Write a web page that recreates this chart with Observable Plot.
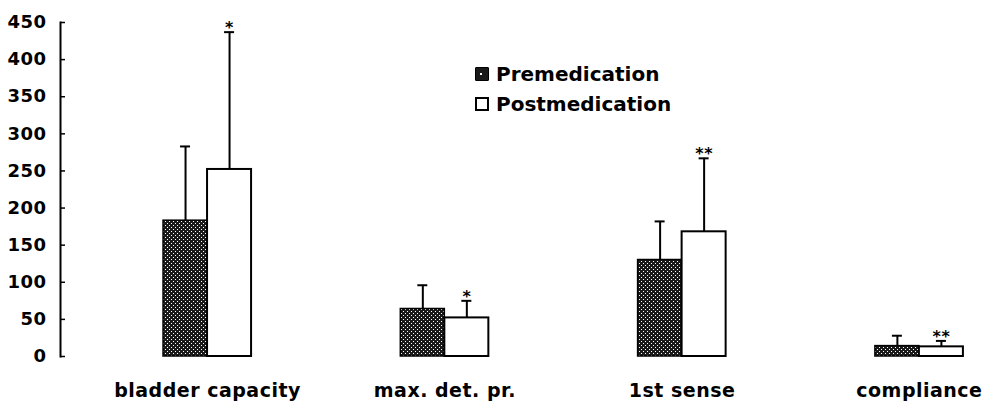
<!DOCTYPE html>
<html>
<head>
<meta charset="utf-8">
<script src="https://cdn.jsdelivr.net/npm/d3@7"></script>
<script src="https://cdn.jsdelivr.net/npm/@observablehq/plot@0.6"></script>
<style>
  body { margin: 0; background: #fff; font-family: "DejaVu Sans", sans-serif; }
  #wrap { position: relative; width: 993px; height: 403px; }
  #chart svg text { letter-spacing: 0.5px; }
  #legend { position: absolute; left: 475px; top: 59px; font-weight: bold; font-size: 20px; color: #000; line-height: 30px; }
  .row { display: flex; align-items: center; }
  .sw { display: inline-block; width: 14px; height: 14px; margin-right: 7px; box-sizing: border-box; position: relative; }
  .sw.pre { background: #1a1a1a; border: 1.5px solid #000; border-radius: 1px; }
  .sw.pre::after { content: ""; position: absolute; left: 4px; top: 5px; width: 2px; height: 2px; background: #fff; }
  .sw.post { background: #fff; border: 2px solid #000; }
</style>
</head>
<body>
<div id="wrap">
  <div id="chart"></div>
  <div id="legend">
    <div class="row"><span class="sw pre"></span><span>Premedication</span></div>
    <div class="row"><span class="sw post"></span><span>Postmedication</span></div>
  </div>
</div>
<script>
const categories = ["bladder capacity", "max. det. pr.", "1st sense", "compliance"];
const series = ["Premedication", "Postmedication"];
const preMean  = [183, 64, 130, 14];
const preErr   = [283, 96, 182, 28];   // top of error bar
const postMean = [252, 52, 168, 13];
const postErr  = [437, 75, 267, 21];   // top of error bar
const preStars  = ["", "", "", ""];
const postStars = ["*", "*", "**", "**"];
const yTicks = [0, 50, 100, 150, 200, 250, 300, 350, 400, 450];

const preRows = categories.map((c, i) => ({cat: c, series: series[0], mean: preMean[i], top: preErr[i], star: preStars[i]}));
const postRows = categories.map((c, i) => ({cat: c, series: series[1], mean: postMean[i], top: postErr[i], star: postStars[i]}));

// x band scale settings (shared with a mirror d3 scale to know the band width)
const W = 993, H = 403, mL = 60, mR = 0;
const xOpts = {paddingInner: 0.629, paddingOuter: 0.2805, align: 0.774};
const bw = d3.scaleBand(categories, [mL, W - mR])
  .paddingInner(xOpts.paddingInner).paddingOuter(xOpts.paddingOuter).align(xOpts.align).bandwidth();
const half = bw / 2, quarter = bw / 4, capHalf = 5;

const chart = Plot.plot({
  width: W,
  height: H,
  marginLeft: mL,
  marginRight: mR,
  marginTop: 22,
  marginBottom: 47,
  style: {fontFamily: "DejaVu Sans, sans-serif", color: "#000", background: "#fff"},
  x: {domain: categories, ...xOpts, round: false, label: null},
  y: {domain: [0, 450], label: null},
  marks: [
    Plot.frame({anchor: "left", stroke: "#000", strokeWidth: 2}),
    Plot.axisY({ticks: yTicks, tickSize: -5, tickPadding: 19, fontSize: 18, fontWeight: "bold", label: null, strokeWidth: 1.5}),
    Plot.axisX({anchor: "bottom", tickSize: 0, tickPadding: 27, fontSize: 19, fontWeight: "bold", label: null}),
    Plot.barY(preRows, {x: "cat", y: "mean", insetRight: half, fill: "url(#dots)", stroke: "#000", strokeWidth: 1.5}),
    Plot.barY(postRows, {x: "cat", y: "mean", insetLeft: half, fill: "#fff", stroke: "#000", strokeWidth: 2}),
    Plot.ruleX(preRows, {x: "cat", y1: "mean", y2: "top", dx: -quarter, stroke: "#000", strokeWidth: 2}),
    Plot.ruleX(postRows, {x: "cat", y1: "mean", y2: "top", dx: quarter, stroke: "#000", strokeWidth: 2}),
    Plot.tickY(preRows, {x: "cat", y: "top", insetLeft: quarter - capHalf, insetRight: half + quarter - capHalf, stroke: "#000", strokeWidth: 2}),
    Plot.tickY(postRows, {x: "cat", y: "top", insetLeft: half + quarter - capHalf, insetRight: quarter - capHalf, stroke: "#000", strokeWidth: 2}),
    Plot.text(preRows.filter(d => d.star), {x: "cat", y: "top", text: "star", dx: -quarter, lineAnchor: "middle", dy: -4, fontSize: 16, fontWeight: "bold", fill: "#000"}),
    Plot.text(postRows.filter(d => d.star), {x: "cat", y: "top", text: "star", dx: quarter, lineAnchor: "middle", dy: -4, fontSize: 16, fontWeight: "bold", fill: "#000"})
  ]
});

// dotted pattern for the premedication bars
const defs = d3.select(chart).insert("defs", ":first-child");
const pat = defs.append("pattern").attr("id", "dots").attr("patternUnits", "userSpaceOnUse").attr("width", 4).attr("height", 4);
pat.append("rect").attr("width", 4).attr("height", 4).attr("fill", "#1a1a1a");
pat.append("rect").attr("x", 1).attr("y", 1).attr("width", 1).attr("height", 1).attr("fill", "#fff");
pat.append("rect").attr("x", 3).attr("y", 3).attr("width", 1).attr("height", 1).attr("fill", "#fff");

document.getElementById("chart").appendChild(chart);
</script>
</body>
</html>
